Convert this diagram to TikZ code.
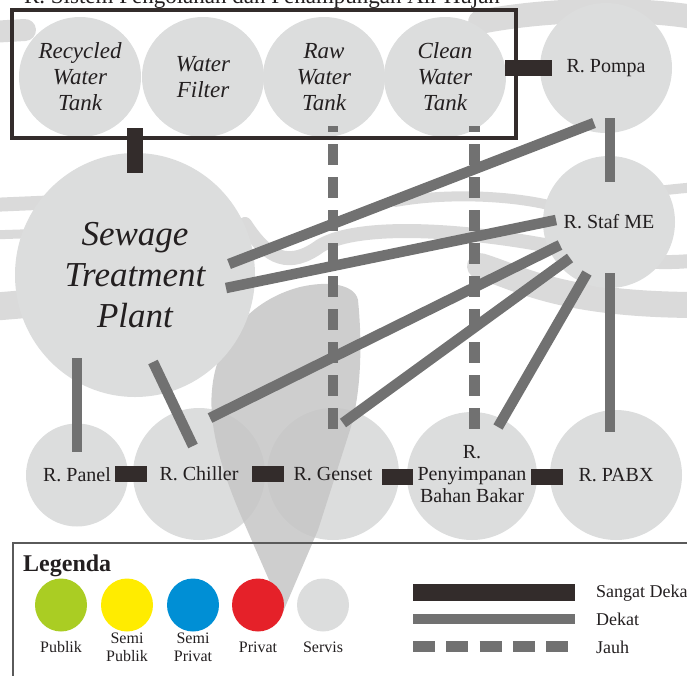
\documentclass[tikz,border=0pt]{standalone}
\usepackage{fontspec}
\setmainfont{Liberation Serif}
\usetikzlibrary{shapes.geometric}

\definecolor{roomgray}{HTML}{DCDDDD}
\definecolor{linkgray}{HTML}{717171}
\definecolor{darkbar}{HTML}{332C2B}
\definecolor{inkcol}{HTML}{231F20}
\definecolor{framegray}{HTML}{5A5A5A}
\definecolor{markgray}{HTML}{C6C6C6}
\definecolor{bandgray}{HTML}{DADADA}
\definecolor{cPublik}{HTML}{AACD23}
\definecolor{cSemiPublik}{HTML}{FFEC00}
\definecolor{cSemiPrivat}{HTML}{008FD5}
\definecolor{cPrivat}{HTML}{E52129}

\begin{document}
\begin{tikzpicture}[x=1pt,y=-1pt,
  room/.style={ellipse, fill=roomgray, inner sep=0pt},
  tanklabel/.style={font=\fontsize{23}{26}\selectfont\itshape, text=inkcol, align=center, inner sep=0pt},
  stplabel/.style={font=\fontsize{35}{41}\selectfont\itshape, text=inkcol, align=center, inner sep=0pt},
  roomlabel/.style={font=\fontsize{20}{22}\selectfont, text=inkcol, align=center, inner sep=0pt},
  vclose/.style={draw=darkbar, line width=16pt},
  nearlink/.style={draw=linkgray, line width=10.5pt},
  farlink/.style={draw=linkgray, line width=10.5pt, dash pattern=on 21pt off 12pt, dash phase=15pt},
  swatch/.style={ellipse, minimum width=52pt, minimum height=53pt, inner sep=0pt},
  legtext/.style={font=\fontsize{16}{18}\selectfont, text=inkcol, align=center, inner sep=0pt},
  keytext/.style={font=\fontsize{18}{20}\selectfont, text=inkcol, anchor=base west, inner sep=0pt},
  band/.style={draw=bandgray, line cap=round},
]
\useasboundingbox (0,0) rectangle (687,675);

% faint swirl watermark, back layer
\draw[band, line width=24pt] (480,22) .. controls (540,10) and (630,6) .. (700,18);
\draw[band, line width=22pt] (-10,32) -- (25,30);
\draw[band, line width=14pt] (-10,205) -- (60,202);
\draw[band, line width=9pt] (-10,235) -- (50,233);
\draw[band, line width=28pt] (-10,307) -- (50,302);
\draw[band, line width=14pt] (245,224) .. controls (268,260) and (290,268) .. (320,246)
  .. controls (360,222) and (470,230) .. (560,248) .. controls (610,258) and (650,266) .. (700,260);
\draw[band, line width=10pt] (395,202) .. controls (450,192) and (520,196) .. (560,208)
  .. controls (600,200) and (650,190) .. (700,187);
\draw[band, line width=26pt] (480,266) .. controls (520,278) and (560,305) .. (700,305);

% title of the water treatment group (runs past the top edge)
\node[font=\fontsize{23}{25}\selectfont, text=inkcol, anchor=base, inner sep=0pt] (title) at (262,3)
  {R. Sistem Pengolahan dan Penampungan Air Hujan};

% service rooms, lower row first
\node[room, minimum width=102pt, minimum height=103pt] (panel)  at (77,475) {};
\node[room, minimum width=132pt, minimum height=132pt] (chiller) at (199,474) {};
\node[room, minimum width=132pt, minimum height=132pt] (genset) at (333,474) {};
\node[room, minimum width=130pt, minimum height=128pt] (pen)    at (472,476) {};
\node[room, minimum width=132pt, minimum height=130pt] (pabx)   at (616,475) {};

% watermark drop, over the lower row
\fill[markgray, opacity=0.85] (283,612) -- (245,525) .. controls (225,480) and (208,430) .. (212,390)
  .. controls (216,340) and (250,300) .. (300,287) .. controls (330,280) and (355,285) .. (358,300)
  .. controls (362,340) and (362,390) .. (350,430) -- (318,530) -- cycle;

\node[room, minimum width=122pt, minimum height=120pt] (rtank)  at (80,77) {};
\node[room, minimum width=122pt, minimum height=120pt] (filter) at (203,77) {};
\node[room, minimum width=122pt, minimum height=120pt] (rawt)   at (324,77) {};
\node[room, minimum width=122pt, minimum height=120pt] (cleant) at (445,77) {};
\node[room, minimum width=132pt, minimum height=130pt] (pompa)  at (606,68) {};
\node[room, minimum width=240pt, minimum height=244pt] (stp)    at (135,275) {};
\node[room, minimum width=132pt, minimum height=132pt] (staf)   at (609,222) {};

% frame around the tanks
\node[draw=darkbar, line width=4pt, minimum width=504pt, minimum height=128pt, inner sep=0pt]
  (tankgroup) at (264,74) {};

% far links
\draw[farlink] ([shift={(9,49)}]rawt.center) -- ([shift={(0,-44)}]genset.center);
\draw[farlink] ([shift={(29.5,49)}]cleant.center) -- ([shift={(2.5,-46)}]pen.center);

% near links
\draw[nearlink] ([shift={(4,50)}]pompa.center) -- ([shift={(1,-40)}]staf.center);
\draw[nearlink] ([shift={(94,-11)}]stp.center) -- ([shift={(-12,55)}]pompa.center);
\draw[nearlink] ([shift={(91,13)}]stp.center) -- ([shift={(-53,-2)}]staf.center);
\draw[nearlink] ([shift={(11,-56)}]chiller.center) -- ([shift={(-49,23)}]staf.center);
\draw[nearlink] ([shift={(10,-51)}]genset.center) -- ([shift={(-39,36)}]staf.center);
\draw[nearlink] ([shift={(26,-49)}]pen.center) -- ([shift={(-22,51)}]staf.center);
\draw[nearlink] ([shift={(1,51)}]staf.center) -- ([shift={(-6,-43)}]pabx.center);
\draw[nearlink] ([shift={(-58,83)}]stp.center) -- ([shift={(0,-23)}]panel.center);
\draw[nearlink] ([shift={(18,87)}]stp.center) -- ([shift={(-6,-28)}]chiller.center);

% very close links
\draw[vclose] ([shift={(-13,-6)}]tankgroup.east) -- ([shift={(-54,0)}]pompa.center);
\draw[vclose] ([shift={(-129,-12)}]tankgroup.south) -- ([shift={(0,20)}]stp.north);
\draw[vclose] ([shift={(38,-1)}]panel.center) -- ([shift={(-52,0)}]chiller.center);
\draw[vclose] ([shift={(53,0)}]chiller.center) -- ([shift={(-49,0)}]genset.center);
\draw[vclose] ([shift={(49,3)}]genset.center) -- ([shift={(-59,1)}]pen.center);
\draw[vclose] ([shift={(59,1)}]pen.center) -- ([shift={(-53,2)}]pabx.center);

% room names
\node[tanklabel] (rtank-t)  at (rtank)  {Recycled\\Water\\Tank};
\node[tanklabel] (filter-t) at (filter) {Water\\Filter};
\node[tanklabel] (rawt-t)   at (rawt)   {Raw\\Water\\Tank};
\node[tanklabel] (cleant-t) at (cleant) {Clean\\Water\\Tank};
\node[stplabel]  (stp-t)    at (135,275) {Sewage\\Treatment\\Plant};
\node[roomlabel] (pompa-t)  at (pompa)  {R. Pompa};
\node[roomlabel] (staf-t)   at (staf)   {R. Staf ME};
\node[roomlabel] (panel-t)  at (panel)  {R. Panel};
\node[roomlabel] (chiller-t) at (chiller) {R. Chiller};
\node[roomlabel] (genset-t) at (genset) {R. Genset};
\node[roomlabel] (pen-t)    at (472,474) {R.\\Penyimpanan\\Bahan Bakar};
\node[roomlabel] (pabx-t)   at (pabx)   {R. PABX};

% legend
\draw[framegray, line width=2pt] (13,700) -- (13,543) -- (700,543);
\node[font=\fontsize{24}{26}\selectfont\bfseries, text=inkcol, anchor=base west, inner sep=0pt]
  (legtitle) at (23,571) {Legenda};

\node[swatch, fill=cPublik]     (sw1) at (61,605) {};
\node[swatch, fill=cSemiPublik] (sw2) at (127,605) {};
\node[swatch, fill=cSemiPrivat] (sw3) at (193,605) {};
\node[swatch, fill=cPrivat]     (sw4) at (258,605) {};
\node[swatch, fill=roomgray]    (sw5) at (323,605) {};
\node[legtext] (sw1-t) at (61,647)  {Publik};
\node[legtext] (sw2-t) at (127,647) {Semi\\Publik};
\node[legtext] (sw3-t) at (193,647) {Semi\\Privat};
\node[legtext] (sw4-t) at (258,647) {Privat};
\node[legtext] (sw5-t) at (323,647) {Servis};

\draw[darkbar, line width=17pt] (413,592.5) -- (575,592.5);
\draw[linkgray, line width=10.5pt] (413,619) -- (575,619);
\draw[linkgray, line width=11pt, dash pattern=on 22pt off 11.25pt] (413,646.5) -- (568,646.5);
\node[keytext] (key1) at (596,597) {Sangat Dekat};
\node[keytext] (key2) at (596,625) {Dekat};
\node[keytext] (key3) at (596,653) {Jauh};
\end{tikzpicture}
\end{document}
